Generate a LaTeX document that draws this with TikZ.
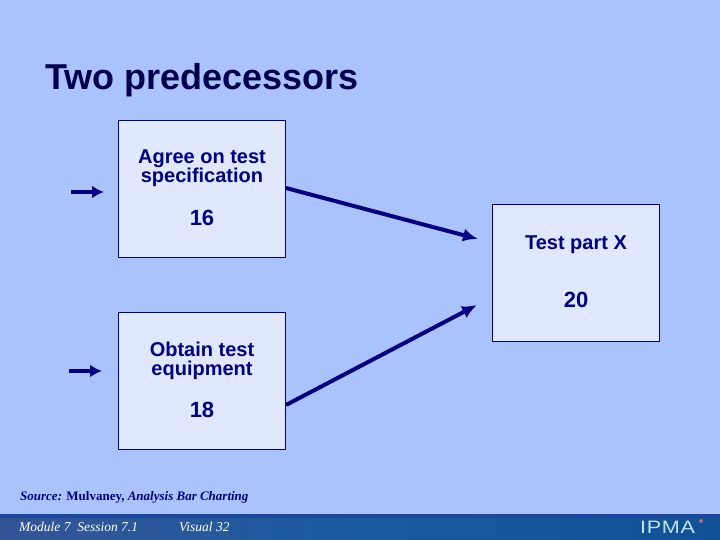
\documentclass[tikz,border=0pt]{standalone}
\usepackage{fontspec}
\setmainfont{Liberation Sans}
\newfontfamily\serifface{Liberation Serif}
\usetikzlibrary{arrows.meta}
\definecolor{bgblue}{RGB}{171,195,253}
\definecolor{boxfill}{RGB}{223,232,254}
\definecolor{navy}{RGB}{0,0,128}
\definecolor{titlecol}{RGB}{0,0,80}
\definecolor{barleft}{RGB}{52,84,150}
\definecolor{barmid}{RGB}{26,92,160}
\definecolor{barright}{RGB}{16,80,150}
\definecolor{bartop}{RGB}{28,72,155}
\definecolor{logo}{RGB}{190,225,245}
\definecolor{logomark}{RGB}{190,110,110}
\tikzset{
  taskbox/.style={draw=navy,fill=boxfill,line width=1pt,minimum width=167pt,minimum height=137pt,inner sep=0pt,outer sep=0pt},
  boxlabel/.style={text=navy,font=\fontsize{20}{19}\selectfont\bfseries,align=center,inner sep=0pt},
  boxnum/.style={text=navy,font=\fontsize{22}{22}\selectfont\bfseries,inner sep=0pt},
  link/.style={draw=navy,line width=4pt,-{Latex[length=15pt,width=13pt]}},
  feed/.style={draw=navy,line width=4.5pt,-{Latex[length=12pt,width=13pt]}},
  source/.style={text=navy,font=\fontsize{13}{13}\selectfont\serifface\bfseries,anchor=west,inner sep=0pt},
  footer/.style={text=white,font=\fontsize{13.5}{13.5}\selectfont\serifface\itshape,anchor=west,inner sep=0pt}
}
\begin{document}
\begin{tikzpicture}[x=1pt,y=-1pt]
\useasboundingbox (0,0) rectangle (720,540);
\fill[bgblue] (0,0) rectangle (720,540);
\shade[left color=barleft,right color=barright,middle color=barmid] (0,514) rectangle (720,540);
\fill[bartop] (0,514) rectangle (720,518);
\node[text=titlecol,font=\fontsize{36}{36}\selectfont\bfseries,anchor=west,inner sep=0pt] (title) at (45,80) {Two predecessors};
\node[taskbox] (a) at (201.5,189) {};
\node[taskbox] (b) at (201.5,381) {};
\node[taskbox] (c) at (576,273) {};
\node[boxlabel] (a1) at (202,168.5) {Agree on test\\specification};
\node[boxnum] (a2) at (202,218) {16};
\node[boxlabel] (b1) at (202,360.5) {Obtain test\\equipment};
\node[boxnum] (b2) at (202,410) {18};
\node[boxlabel] (c1) at (576,244.5) {Test part X};
\node[boxnum] (c2) at (576,300) {20};
\coordinate (a0) at (71,192);
\coordinate (b0) at (69,371);
\coordinate (ain) at (104,192);
\coordinate (bin) at (102,371);
\coordinate (aout) at (286,188);
\coordinate (bout) at (286,405);
\coordinate (cina) at (478,239);
\coordinate (cinb) at (477,305);
\draw[feed] (a0) -- (ain);
\draw[feed] (b0) -- (bin);
\draw[link] (aout) -- (cina);
\draw[link] (bout) -- (cinb);
\node[source] (src) at (20,497) {\itshape Source: \upshape Mulvaney, \itshape Analysis Bar Charting};
\node[footer] (mod) at (19,527) {Module 7\ \ Session 7.1};
\node[footer] (vis) at (179,527) {Visual 32};
\node[text=logo,font=\fontsize{18}{18}\selectfont\addfontfeatures{LetterSpace=3},xscale=1.2,anchor=west,inner sep=0pt] (ipma) at (640,527) {IPMA};
\fill[logomark] (701,521) circle (2pt);
\end{tikzpicture}
\end{document}
